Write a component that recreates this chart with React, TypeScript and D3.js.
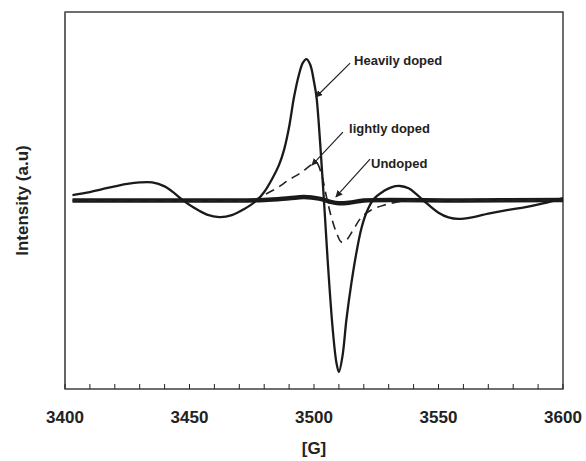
import React, { useEffect, useRef } from "react";
import * as d3 from "d3";

// field [G] and intensity (a.u.)
const heavyX = [3403, 3410, 3415, 3420, 3425, 3430, 3435, 3440, 3444, 3447, 3452, 3457, 3462, 3467, 3472, 3477, 3480, 3483, 3486, 3488, 3490, 3492, 3494, 3495.5, 3497, 3498.5, 3500, 3501, 3502.5, 3504, 3505.5, 3507.5, 3509, 3510, 3511.5, 3513, 3515, 3517, 3519, 3521, 3524, 3528, 3531, 3534.5, 3538, 3541, 3544, 3550, 3554, 3558, 3564, 3570, 3578, 3585, 3592, 3600];
const heavyY = [2.9, 4.5, 6, 7.5, 8.8, 9.6, 9.6, 7.5, 3.8, 0.5, -4, -7.5, -8.8, -7.8, -4.5, 0, 4.5, 11, 19, 27, 39, 55, 67, 73, 75, 72, 63, 55, 30, 0, -32, -68, -86, -91, -82, -63.4, -44, -27.9, -15, -6.6, 0.8, 5, 7, 7.7, 6.5, 3.5, 0, -6.5, -9, -9.8, -8.8, -7, -5, -3.5, -1.5, 1.3];

const lightX = [3403, 3430, 3460, 3476, 3480, 3485, 3490, 3495, 3499, 3501, 3503, 3505, 3507, 3509, 3511, 3513, 3516, 3519, 3523, 3528, 3535, 3545, 3600];
const lightY = [0, 0, 0, 0.5, 3, 6.5, 11, 15, 19, 20, 14, 2, -9, -17, -22, -21, -15, -9, -5, -2.5, -0.5, 0, 0];

const undopedX = [3403, 3450, 3480, 3490, 3496, 3502, 3506, 3510, 3515, 3520, 3560, 3600];
const undopedY = [0, 0, 0.3, 1.2, 1.8, 1, -0.5, -1.5, -1, 0, 0, 0.3];

const xTicks = [3400, 3450, 3500, 3550, 3600];

const notes = [
  { text: "Heavily doped", tx: 3516.1, ty: 71.9, x1: 3514.5, y1: 72.9, x2: 3500.8, y2: 54.9 },
  { text: "lightly doped", tx: 3514.1, ty: 35.8, x1: 3511.6, y1: 36.3, x2: 3499.2, y2: 18.8 },
  { text: "Undoped", tx: 3522.9, ty: 17.2, x1: 3522.5, y1: 22, x2: 3508.8, y2: 1.9 },
];

const W = 586;
const H = 461;
const margin = { left: 65, right: 23, top: 12, bottom: 72 };
const font = "'Liberation Sans', Arial, sans-serif";

export default function App() {
  const ref = useRef<SVGSVGElement>(null);

  useEffect(() => {
    const svg = d3.select(ref.current);
    svg.selectAll("*").remove();

    const x = d3.scaleLinear().domain([3400, 3600]).range([margin.left, W - margin.right]);
    const y = d3.scaleLinear().domain([-100, 100]).range([H - margin.bottom, margin.top]);

    svg.append("defs").append("marker")
      .attr("id", "arr")
      .attr("viewBox", "0 0 10 10")
      .attr("refX", 9)
      .attr("refY", 5)
      .attr("markerWidth", 7)
      .attr("markerHeight", 7)
      .attr("markerUnits", "userSpaceOnUse")
      .attr("orient", "auto")
      .append("path")
      .attr("d", "M0,0L10,5L0,10z")
      .attr("fill", "#222");

    // frame
    svg.append("rect")
      .attr("x", margin.left)
      .attr("y", margin.top)
      .attr("width", W - margin.left - margin.right)
      .attr("height", H - margin.top - margin.bottom)
      .attr("fill", "none")
      .attr("stroke", "#222")
      .attr("stroke-width", 1.3);
    svg.append("line")
      .attr("x1", margin.left).attr("x2", margin.left)
      .attr("y1", margin.top).attr("y2", H - margin.bottom)
      .attr("stroke", "#666").attr("stroke-width", 2);

    // bottom ticks (inside)
    const minor = d3.range(3400, 3601, 10);
    svg.append("g").selectAll("line").data(minor).join("line")
      .attr("x1", (d) => x(d)).attr("x2", (d) => x(d))
      .attr("y1", H - margin.bottom).attr("y2", H - margin.bottom - 5)
      .attr("stroke", "#222").attr("stroke-width", 1);

    svg.append("g").selectAll("text").data(xTicks).join("text")
      .attr("x", (d) => x(d))
      .attr("y", 423)
      .attr("text-anchor", "middle")
      .attr("font-family", font)
      .attr("font-weight", "bold")
      .attr("font-size", 17)
      .attr("fill", "#222")
      .text((d) => d);

    svg.append("text")
      .attr("x", (margin.left + W - margin.right) / 2)
      .attr("y", 454)
      .attr("text-anchor", "middle")
      .attr("font-family", font)
      .attr("font-weight", "bold")
      .attr("font-size", 17)
      .attr("fill", "#222")
      .text("[G]");

    svg.append("text")
      .attr("transform", `translate(28,${(margin.top + H - margin.bottom) / 2}) rotate(-90)`)
      .attr("text-anchor", "middle")
      .attr("font-family", font)
      .attr("font-weight", "bold")
      .attr("font-size", 17)
      .attr("fill", "#222")
      .text("Intensity (a.u)");

    const line = d3.line<[number, number]>()
      .x((d) => x(d[0]))
      .y((d) => y(d[1]))
      .curve(d3.curveCatmullRom.alpha(0.5));

    const zip = (a: number[], b: number[]) => a.map((v, i) => [v, b[i]] as [number, number]);

    svg.append("path")
      .attr("d", line(zip(undopedX, undopedY)))
      .attr("fill", "none")
      .attr("stroke", "#1a1a1a")
      .attr("stroke-width", 4.5);

    svg.append("path")
      .attr("d", line(zip(lightX, lightY)))
      .attr("fill", "none")
      .attr("stroke", "#222")
      .attr("stroke-width", 1.6)
      .attr("stroke-dasharray", "9,6");

    svg.append("path")
      .attr("d", line(zip(heavyX, heavyY)))
      .attr("fill", "none")
      .attr("stroke", "#1a1a1a")
      .attr("stroke-width", 2.3);

    // annotations
    const g = svg.append("g");
    notes.forEach((n) => {
      g.append("line")
        .attr("x1", x(n.x1)).attr("y1", y(n.y1))
        .attr("x2", x(n.x2)).attr("y2", y(n.y2))
        .attr("stroke", "#222")
        .attr("stroke-width", 1.2)
        .attr("marker-end", "url(#arr)");
      g.append("text")
        .attr("x", x(n.tx))
        .attr("y", y(n.ty))
        .attr("font-family", font)
        .attr("font-weight", "bold")
        .attr("font-size", 13)
        .attr("fill", "#222")
        .text(n.text);
    });
  }, []);

  return (
    <svg
      ref={ref}
      width={W}
      height={H}
      style={{ position: "absolute", left: 0, top: 0, background: "#fff" }}
    />
  );
}
